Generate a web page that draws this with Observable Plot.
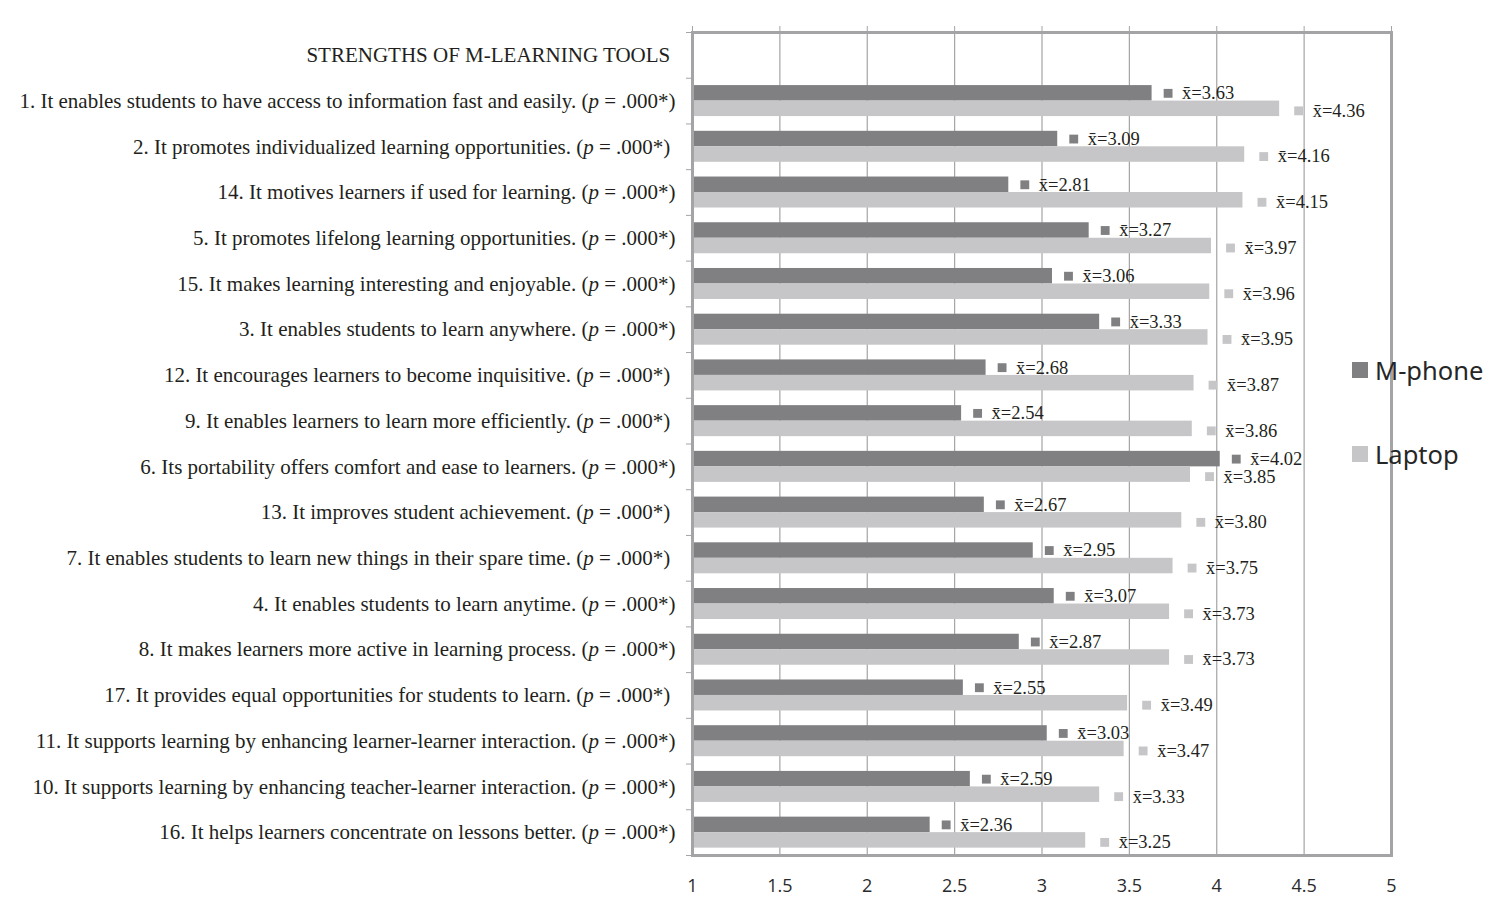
<!DOCTYPE html>
<html>
<head>
<meta charset="utf-8">
<script src="https://cdn.jsdelivr.net/npm/d3@7"></script>
<script src="https://cdn.jsdelivr.net/npm/@observablehq/plot@0.6"></script>
<style>
  html, body { margin: 0; padding: 0; background: #fff; }
  #wrap { position: relative; width: 1504px; height: 922px; }
  #legend { position: absolute; left: 1352px; top: 349px; font-family: "Noto Sans", "Open Sans", sans-serif; font-size: 25.5px; color: #262626; }
  #legend .item { display: flex; align-items: center; height: 42px; }
  #legend .sw { width: 16px; height: 16px; margin-right: 7px; display: inline-block; }
</style>
</head>
<body>
<div id="wrap">
  <div id="chart"></div>
  <div id="legend"></div>
</div>
<script>
const header = "STRENGTHS OF M-LEARNING TOOLS\u00a0";
const statements = [
  "1. It enables students to have access to information fast and easily. (p = .000*)",
  "2. It promotes individualized learning opportunities. (p = .000*)\u00a0",
  "14. It motives learners if used for learning. (p = .000*)",
  "5. It promotes lifelong learning opportunities. (p = .000*)",
  "15. It makes learning interesting and enjoyable. (p = .000*)",
  "3. It enables students to learn anywhere. (p = .000*)",
  "12. It encourages learners to become inquisitive. (p = .000*)\u00a0",
  "9. It enables learners to learn more efficiently. (p = .000*)\u00a0",
  "6. Its portability offers comfort and ease to learners. (p = .000*)",
  "13. It improves student achievement. (p = .000*)\u00a0",
  "7. It enables students to learn new things in their spare time. (p = .000*)\u00a0",
  "4. It enables students to learn anytime. (p = .000*)",
  "8. It makes learners more active in learning process. (p = .000*)",
  "17. It provides equal opportunities for students to learn. (p = .000*)\u00a0",
  "11. It supports learning by enhancing learner-learner interaction. (p = .000*)",
  "10. It supports learning by enhancing teacher-learner interaction. (p = .000*)",
  "16. It helps learners concentrate on lessons better. (p = .000*)"
];
const mphone = [3.63, 3.09, 2.81, 3.27, 3.06, 3.33, 2.68, 2.54, 4.02, 2.67, 2.95, 3.07, 2.87, 2.55, 3.03, 2.59, 2.36];
const laptop = [4.36, 4.16, 4.15, 3.97, 3.96, 3.95, 3.87, 3.86, 3.85, 3.80, 3.75, 3.73, 3.73, 3.49, 3.47, 3.33, 3.25];
const xTicks = [1, 1.5, 2, 2.5, 3, 3.5, 4, 4.5, 5];
const seriesNames = ["M-phone", "Laptop"];
const seriesColors = ["#808083", "#c6c6c8"];

const categories = [header, ...statements];
const mData = statements.map((s, i) => ({cat: s, v: mphone[i]}));
const lData = statements.map((s, i) => ({cat: s, v: laptop[i]}));

const W = 1504, H = 922, mt = 32, mb = 67, ml = 692, mr = 113;
const band = (H - mt - mb) / categories.length;
const barH = 15.5;
const outer = (band - 2 * barH) / 2;
const serif = "'Liberation Serif', 'Times New Roman', serif";
const ink = "#231f20";
const grid = "#a4a4a6";
const fmt = v => "x\u0304=" + v.toFixed(2);

const chart = Plot.plot({
  width: W, height: H,
  marginTop: mt, marginBottom: mb, marginLeft: ml, marginRight: mr,
  x: {domain: [1, 5], round: false},
  y: {domain: categories, padding: 0, round: false},
  style: {background: "#fff"},
  marks: [
    Plot.ruleX(xTicks, {stroke: grid, strokeWidth: 1.2}),
    Plot.barX(mData, {y: "cat", x1: 1, x2: "v", fill: seriesColors[0], insetTop: outer, insetBottom: outer + barH}),
    Plot.barX(lData, {y: "cat", x1: 1, x2: "v", fill: seriesColors[1], insetTop: outer + barH, insetBottom: outer}),
    Plot.dot(mData, {y: "cat", x: "v", symbol: "square", r: 5, fill: seriesColors[0], dx: 16, dy: -barH / 2}),
    Plot.dot(lData, {y: "cat", x: "v", symbol: "square", r: 5, fill: seriesColors[1], dx: 19, dy: barH / 2 + 2}),
    Plot.text(mData, {y: "cat", x: "v", text: d => fmt(d.v), dx: 30, dy: -barH / 2, textAnchor: "start", fill: ink, fontSize: 18.5, fontFamily: serif}),
    Plot.text(lData, {y: "cat", x: "v", text: d => fmt(d.v), dx: 33, dy: barH / 2 + 2, textAnchor: "start", fill: ink, fontSize: 18.5, fontFamily: serif}),
    Plot.frame({stroke: grid, strokeWidth: 3}),
    Plot.axisX(xTicks, {anchor: "top", tickSize: 7, stroke: grid, tickFormat: () => "", label: null}),
    Plot.axisX(xTicks, {anchor: "bottom", tickSize: 0, tickPadding: 24, label: null, fill: "#2a2a2a", fontSize: 18, fontFamily: "'Open Sans', 'Noto Sans', sans-serif", tickFormat: d => String(d)}),
    Plot.axisY(categories, {anchor: "left", tickSize: 0, tickPadding: 17, label: null, fill: ink, fontSize: 21, fontFamily: serif}),
    Plot.axisY(categories, {anchor: "left", tickSize: 6, dy: band / 2, stroke: grid, tickFormat: () => "", label: null}),
    Plot.axisY([header], {anchor: "left", tickSize: 6, dy: -band / 2, stroke: grid, tickFormat: () => "", label: null})
  ]
});
document.getElementById("chart").appendChild(chart);

// italicise the "p" in each statistical note
d3.select(chart).selectAll("text").each(function() {
  const t = this.textContent;
  const k = t.indexOf("(p =");
  if (k < 0) return;
  const sel = d3.select(this);
  sel.text(null);
  sel.append("tspan").text(t.slice(0, k + 1));
  sel.append("tspan").attr("font-style", "italic").text("p");
  sel.append("tspan").text(t.slice(k + 2));
});

const legend = d3.select("#legend");
seriesNames.forEach((n, i) => {
  const it = legend.append("div").attr("class", "item");
  it.append("span").attr("class", "sw").style("background", seriesColors[i]);
  it.append("span").text(n);
  if (i === 0) legend.append("div").style("height", "42px");
});
</script>
</body>
</html>
